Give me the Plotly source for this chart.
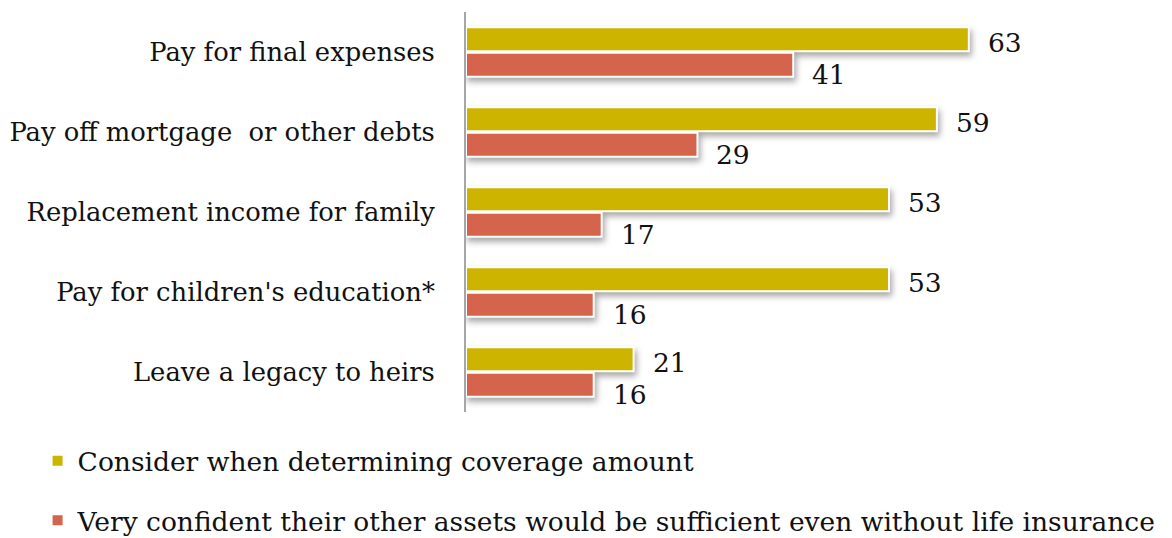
import plotly.graph_objects as go

categories = [
    "Pay for final expenses",
    "Pay off mortgage  or other debts",
    "Replacement income for family",
    "Pay for children's education*",
    "Leave a legacy to heirs",
]
consider = [63, 59, 53, 53, 21]
confident = [41, 29, 17, 16, 16]
series_names = [
    "Consider when determining coverage amount",
    "Very confident their other assets would be sufficient even without life insurance",
]

GOLD = "#CCB400"
RED = "#D4644C"
FONT = "DejaVu Serif"
FS = 26.5
TICK_FS = 25.8

fig = go.Figure()
fig.add_trace(go.Bar(
    y=categories, x=consider, orientation="h", name=series_names[0],
    marker=dict(color=GOLD, line=dict(color="white", width=2)),
    legendgroup="a",
))
fig.add_trace(go.Bar(
    y=categories, x=confident, orientation="h", name=series_names[1],
    marker=dict(color=RED, line=dict(color="white", width=2)),
    legendgroup="b",
))

# value labels just past the bar ends
for vals, shift in ((consider, 10), (confident, -22)):
    for cat, v in zip(categories, vals):
        fig.add_annotation(
            x=v, y=cat, text=str(v), showarrow=False,
            xanchor="left", yanchor="middle", xshift=17, yshift=shift,
            font=dict(family=FONT, size=FS, color="#111111"),
        )

fig.update_layout(
    width=1172, height=538,
    margin=dict(l=466, r=26, t=12, b=126, autoexpand=False),
    paper_bgcolor="white", plot_bgcolor="white",
    barmode="group", bargap=0.36, bargroupgap=0.06,
    font=dict(family=FONT, size=FS, color="#111111"),
    xaxis=dict(range=[0, 85.2], visible=False, fixedrange=True),
    yaxis=dict(
        autorange="reversed", showgrid=False, ticks="",
        showline=True, linecolor="#A6A6A6", linewidth=2,
        ticklabelstandoff=24, automargin=False,
        tickfont=dict(family=FONT, size=TICK_FS, color="#111111"),
    ),
    legend=dict(
        x=-0.63, xanchor="left", y=1 - 437 / 538, yanchor="top", yref="container",
        traceorder="grouped", tracegroupgap=22,
        font=dict(family=FONT, size=FS, color="#111111"),
        itemwidth=30,
    ),
)

shadow_js = """
document.querySelectorAll('.trace.bars .point path').forEach(function(p){
  p.style.filter = 'drop-shadow(2px 4px 3px rgba(0,0,0,0.35))';
});
"""
fig.write_html("out.html", post_script=shadow_js)
